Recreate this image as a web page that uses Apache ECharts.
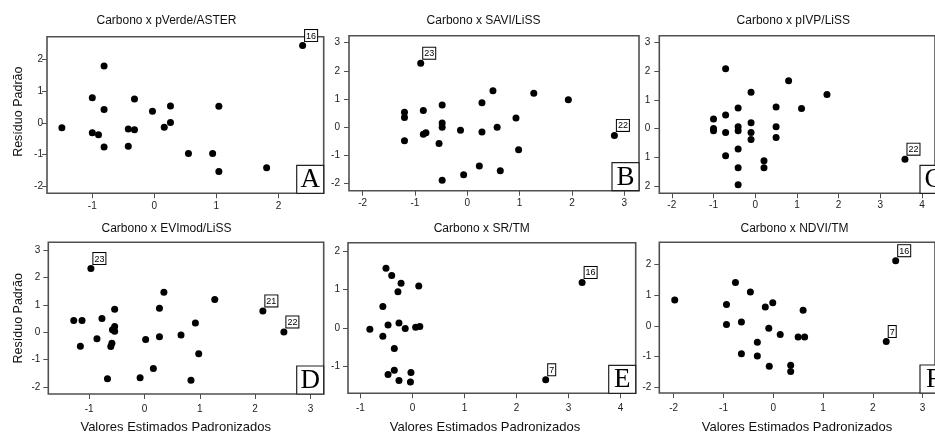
<!DOCTYPE html>
<html><head><meta charset="utf-8">
<script src="https://cdn.jsdelivr.net/npm/echarts@6/dist/echarts.min.js"></script>
<style>html,body{margin:0;padding:0;background:#fff}#c{width:935px;height:433px}</style>
</head><body><div id="c"></div>
<script>
// ---- Data ----
const titles = ['Carbono x pVerde/ASTER','Carbono x SAVI/LiSS','Carbono x pIVP/LiSS','Carbono x EVImod/LiSS','Carbono x SR/TM','Carbono x NDVI/TM'];
const letters = ['A','B','C','D','E','F'];
const yName = 'Resíduo Padrão';
const xName = 'Valores Estimados Padronizados';

const aX = [-1.49,-1.00,-1.00,-0.90,-0.81,-0.81,-0.81,-0.42,-0.32,-0.32,-0.42,-0.03,0.16,0.26,0.26,0.55,0.94,1.04,1.04,1.81,2.39];
const aY = [-0.16,0.79,-0.32,-0.38,1.79,0.42,-0.77,-0.20,0.75,-0.22,-0.74,0.36,-0.14,0.53,0.01,-0.97,-0.97,0.52,-1.54,-1.42,2.44];
const aTag = ['','','','','','','','','','','','','','','','','','','','','16'];

const bX = [-0.89,-1.20,-1.20,-1.20,-0.84,-0.84,-0.79,-0.48,-0.48,-0.48,-0.54,-0.48,-0.13,-0.07,0.23,0.28,0.28,0.49,0.57,0.63,0.93,0.98,1.27,1.93,2.81];
const bY = [2.27,0.52,0.34,-0.49,0.59,-0.26,-0.21,0.78,0.14,-0.01,-0.59,-1.90,-0.12,-1.70,-1.39,0.86,-0.18,1.29,-0.01,-1.56,0.32,-0.81,1.20,0.97,-0.30];
const bTag = ['23','','','','','','','','','','','','','','','','','','','','','','','','22'];

const cX = [-0.71,-1.00,-1.00,-1.00,-0.71,-0.71,-0.71,-0.41,-0.41,-0.41,-0.41,-0.41,-0.41,-0.10,-0.10,-0.10,-0.10,0.21,0.21,0.50,0.50,0.50,0.80,1.11,1.72,3.59];
const cY = [2.09,0.34,0.01,-0.07,0.48,-0.13,-0.94,0.72,0.07,-0.07,-0.71,-1.36,-1.95,1.27,0.21,-0.13,-0.38,-1.12,-1.36,0.76,0.07,-0.31,1.67,0.70,1.19,-1.06];
const cTag = ['','','','','','','','','','','','','','','','','','','','','','','','','','22'];

const dX = [-0.97,-1.28,-1.13,-1.16,-0.86,-0.77,-0.67,-0.61,-0.59,-0.58,-0.54,-0.54,-0.54,-0.08,0.02,0.16,0.27,0.27,0.35,0.66,0.84,0.92,0.98,1.27,2.14,2.52];
const dY = [2.33,0.43,0.43,-0.51,-0.24,0.50,-1.70,-0.52,-0.40,0.09,0.84,0.21,0.04,-1.67,-0.27,-1.33,0.88,-0.17,1.46,-0.10,-1.76,0.34,-0.79,1.20,0.78,0.01];
const dTag = ['23','','','','','','','','','','','','','','','','','','','','','','','','21','22'];

const eX = [-0.51,-0.40,-0.22,-0.28,0.12,-0.57,-0.82,-0.47,-0.57,-0.26,-0.14,0.06,0.14,-0.35,-0.35,-0.47,-0.26,-0.03,-0.04,2.56,3.26];
const eY = [1.55,1.36,1.16,0.94,1.09,0.56,-0.03,0.08,-0.21,0.13,-0.01,0.02,0.04,-0.53,-1.09,-1.20,-1.36,-1.15,-1.40,-1.34,1.18];
const eTag = ['','','','','','','','','','','','','','','','','','','','7','16'];

const fX = [-1.98,-0.94,-0.94,-0.76,-0.64,-0.64,-0.46,-0.32,-0.32,-0.16,-0.01,-0.09,-0.08,0.14,0.35,0.35,0.50,0.63,0.60,2.27,2.46];
const fY = [0.85,0.70,0.05,1.42,0.13,-0.91,1.11,-0.53,-0.98,0.62,0.76,-0.08,-1.32,-0.28,-1.28,-1.49,-0.36,-0.36,0.51,-0.51,2.13];
const fTag = ['','','','','','','','','','','','','','','','','','','','7','16'];

const xTicksA = [-1,0,1,2],        yTicksA = [-2,-1,0,1,2];
const xTicksB = [-2,-1,0,1,2,3],   yTicksB = [-2,-1,0,1,2,3];
const xTicksC = [-2,-1,0,1,2,3,4], yTicksC = [-2,-1,0,1,2,3];
const xTicksD = [-1,0,1,2,3],      yTicksD = [-2,-1,0,1,2,3];
const xTicksE = [-1,0,1,2,3,4],    yTicksE = [-1,0,1,2];
const xTicksF = [-2,-1,0,1,2,3],   yTicksF = [-2,-1,0,1,2];

// ---- Layout ----
const panels = [
  {xs:aX, ys:aY, tags:aTag, xt:xTicksA, yt:yTicksA, grid:{left:47, top:36.7, width:276.7, height:156.6}, xr:[-1.73,2.73], yr:[-2.23,2.72], tx:166.5, ty:21, ym:4, xm:8},
  {xs:bX, ys:bY, tags:bTag, xt:xTicksB, yt:yTicksB, grid:{left:349, top:35.7, width:290, height:155}, xr:[-2.26,3.28], yr:[-2.27,3.25], tx:483.5, ty:21, ym:9, xm:8},
  {xs:cX, ys:cY, tags:cTag, xt:xTicksC, yt:yTicksC, grid:{left:659.3, top:35.7, width:287.7, height:157.6}, xr:[-2.30,4.31], yr:[-2.25,3.24], tx:793.3, ty:21, ym:9, xm:7, absY:true},
  {xs:dX, ys:dY, tags:dTag, xt:xTicksD, yt:yTicksD, grid:{left:48.3, top:242.3, width:275.4, height:151.7}, xr:[-1.74,3.24], yr:[-2.26,3.29], tx:166.5, ty:228.5, ym:8, xm:10},
  {xs:eX, ys:eY, tags:eTag, xt:xTicksE, yt:yTicksE, grid:{left:348, top:242.7, width:287.7, height:150.6}, xr:[-1.24,4.29], yr:[-1.69,2.21], tx:481.7, ty:228.5, ym:8, xm:10},
  {xs:fX, ys:fY, tags:fTag, xt:xTicksF, yt:yTicksF, grid:{left:659.3, top:242.3, width:287.7, height:150.7}, xr:[-2.29,3.25], yr:[-2.19,2.73], tx:794.5, ty:228.5, ym:8, xm:10}
];

const FONT = 'Liberation Sans, Arial, sans-serif';
const frame = '#505050';
const option = {animation:false, grid:[], xAxis:[], yAxis:[], series:[], graphic:[]};

panels.forEach((p, i) => {
  option.grid.push(Object.assign({show:true, borderColor:frame, borderWidth:1.6, backgroundColor:'#fff', containLabel:false}, p.grid));
  option.xAxis.push({
    type:'value', gridIndex:i, min:p.xr[0], max:p.xr[1], position:'bottom',
    axisLine:{show:false, onZero:false}, splitLine:{show:false},
    axisTick:{show:true, length:5, customValues:p.xt, lineStyle:{color:frame, width:1}},
    axisLabel:{show:true, customValues:p.xt, margin:p.xm, fontSize:10, fontFamily:FONT, color:'#222'}
  });
  option.yAxis.push({
    type:'value', gridIndex:i, min:p.yr[0], max:p.yr[1], position:'left',
    axisLine:{show:false, onZero:false}, splitLine:{show:false},
    axisTick:{show:true, length:5, customValues:p.yt, lineStyle:{color:frame, width:1}},
    axisLabel:{show:true, customValues:p.yt, margin:p.ym, fontSize:10, fontFamily:FONT, color:'#222',
      formatter: p.absY ? (v => String(Math.abs(v))) : (v => String(v))}
  });
  const data = p.xs.map((x, k) => {
    const item = {value:[x, p.ys[k]]};
    if (p.tags[k]) {
      item.label = {show:true, formatter:p.tags[k]};
    }
    return item;
  });
  option.series.push({
    type:'scatter', xAxisIndex:i, yAxisIndex:i, symbol:'circle', symbolSize:7,
    itemStyle:{color:'#000', opacity:1}, data:data, z:3,
    label:{show:false, position:[6,-12], fontSize:9, fontFamily:FONT, color:'#000',
      backgroundColor:'#fff', borderColor:'#000', borderWidth:1, padding:[1,1,0,1], lineHeight:10}
  });
  option.graphic.push({type:'text', x:p.tx, y:p.ty, z:10,
    style:{text:titles[i], font:'12px '+FONT, fill:'#111', align:'center', verticalAlign:'middle', textAlign:'center', textVerticalAlign:'middle'}});
  const g = p.grid;
  const bx = g.left + g.width - 27, by = g.top + g.height - 28;
  option.graphic.push({type:'rect', x:bx, y:by, z:20, shape:{x:0, y:0, width:27, height:28},
    style:{fill:'#fff', stroke:'#222', lineWidth:1.2}});
  option.graphic.push({type:'text', x:bx+13.5, y:by+15, z:21,
    style:{text:letters[i], font:'27px Liberation Serif, Times New Roman, serif', fill:'#000', align:'center', verticalAlign:'middle', textAlign:'center', textVerticalAlign:'middle'}});
});

[[18.3,111.7],[18.3,318.3]].forEach(c => {
  option.graphic.push({type:'text', x:c[0], y:c[1], rotation:Math.PI/2, z:10,
    style:{text:yName, font:'12.5px '+FONT, fill:'#111', align:'center', verticalAlign:'middle', textAlign:'center', textVerticalAlign:'middle'}});
});
[175.7, 485, 797].forEach(cx => {
  option.graphic.push({type:'text', x:cx, y:427.5, z:10,
    style:{text:xName, font:'13px '+FONT, fill:'#111', align:'center', verticalAlign:'middle', textAlign:'center', textVerticalAlign:'middle'}});
});

const chart = echarts.init(document.getElementById('c'));
chart.setOption(option);
</script>
</body></html>
